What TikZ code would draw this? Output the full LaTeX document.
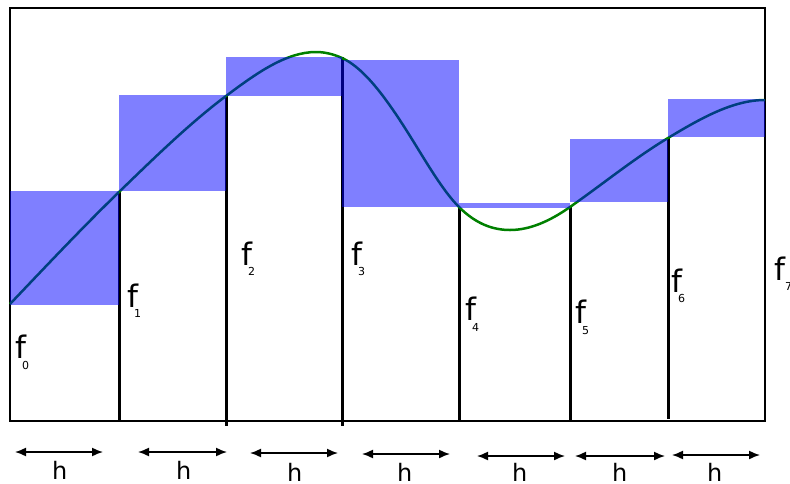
\documentclass[tikz,border=0pt]{standalone}
\usepackage{fontspec}
\setmainfont{DejaVu Sans}
\usetikzlibrary{arrows.meta}
\definecolor{curvegreen}{RGB}{0,128,0}
\begin{document}
\begin{tikzpicture}[x=1pt,y=-1pt,
  bar/.style={line width=3pt},
  frame/.style={line width=2.5pt},
  fn/.style={draw=curvegreen, line width=2.5pt},
  riem/.style={fill=blue, fill opacity=0.5, draw=none},
  flab/.style={anchor=base west, inner sep=0pt, font=\fontsize{31}{31}\selectfont},
  fsub/.style={anchor=base west, inner sep=0pt, font=\fontsize{11}{11}\selectfont},
  hlab/.style={anchor=base west, inner sep=0pt, font=\fontsize{24}{24}\selectfont},
  harr/.style={{Latex[length=11pt,width=9pt]}-{Latex[length=11pt,width=9pt]}, line width=1.5pt}
]
\useasboundingbox (0,0) rectangle (790,483);

% vertical bars
\draw[bar] (119,192) -- (119,421);
\draw[bar] (226,96) -- (226,426);
\draw[bar] (342,57) -- (342,426);
\draw[bar] (459,207) -- (459,421);
\draw[bar] (570,207) -- (570,421);
\draw[bar] (668,138) -- (668,419);

% frame
\draw[frame] (10,8) rectangle (765,421);

% function curve
\draw[fn] (10,304)
  .. controls (46.3,265.9) and (82.7,227.2) .. (119,192)
  .. controls (154.7,157.4) and (190.3,122.75) .. (226,96)
  .. controls (256,73.5) and (286,52) .. (316,52)
  .. controls (324.7,52) and (333.3,54.1) .. (342,58)
  .. controls (364.7,68.2) and (387.3,99.7) .. (410,136)
  .. controls (426.3,162.1) and (442.7,190.7) .. (459,207)
  .. controls (476,224) and (493,230) .. (510,230)
  .. controls (530,230) and (550,221) .. (570,207)
  .. controls (602.7,184.1) and (635.3,157.6) .. (668,138)
  .. controls (700.3,118.6) and (732.7,100) .. (765,100);

% rectangles
\fill[riem] (10,191) rectangle (119,305);
\fill[riem] (119,95) rectangle (226,191);
\fill[riem] (226,57) rectangle (342,96);
\fill[riem] (342,60) rectangle (459,207);
\fill[riem] (459,203) rectangle (570,208);
\fill[riem] (570,139) rectangle (668,202);
\fill[riem] (668,99) rectangle (765,137);

% labels f_i
\node[flab] (f0) at (15,358) {f};  \node[fsub] (s0) at (22,369) {0};
\node[flab] (f1) at (127,307) {f}; \node[fsub] (s1) at (134,317) {1};
\node[flab] (f2) at (241,265) {f}; \node[fsub] (s2) at (248,275) {2};
\node[flab] (f3) at (351,265) {f}; \node[fsub] (s3) at (358,275) {3};
\node[flab] (f4) at (465,320) {f}; \node[fsub] (s4) at (472,331) {4};
\node[flab] (f5) at (575,323) {f}; \node[fsub] (s5) at (582,334) {5};
\node[flab] (f6) at (671,292) {f}; \node[fsub] (s6) at (678,302) {6};
\node[flab] (f7) at (774,280) {f}; \node[fsub] (s7) at (785,290) {7};

% h arrows
\coordinate (a1l) at (15,452);  \coordinate (a1r) at (103,452);
\coordinate (a2l) at (138,452); \coordinate (a2r) at (227,452);
\coordinate (a3l) at (250,453); \coordinate (a3r) at (338,453);
\coordinate (a4l) at (362,454); \coordinate (a4r) at (450,454);
\coordinate (a5l) at (477,456); \coordinate (a5r) at (565,456);
\coordinate (a6l) at (575,456); \coordinate (a6r) at (665,456);
\coordinate (a7l) at (672,455); \coordinate (a7r) at (760,455);
\foreach \i in {1,...,7} { \draw[harr] (a\i l) -- (a\i r); }

\node[hlab] (h1) at (52,479) {h};
\node[hlab] (h2) at (176,479) {h};
\node[hlab] (h3) at (287,481) {h};
\node[hlab] (h4) at (397,481) {h};
\node[hlab] (h5) at (512,481) {h};
\node[hlab] (h6) at (612,481) {h};
\node[hlab] (h7) at (707,481) {h};
\end{tikzpicture}
\end{document}
